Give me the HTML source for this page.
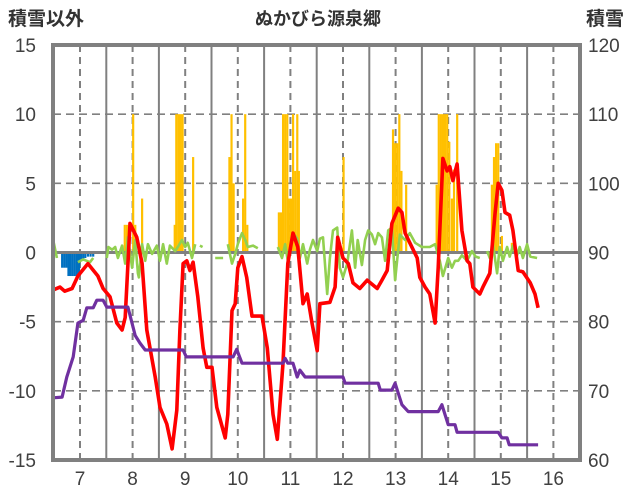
<!DOCTYPE html>
<html><head><meta charset="utf-8">
<style>
html,body{margin:0;padding:0;background:#fff;}
svg{display:block;font-family:"Liberation Sans","Noto Sans CJK JP",sans-serif;}
</style></head>
<body>
<svg id="chart" width="636" height="501" viewBox="0 0 636 501">
<text x="46" y="25" text-anchor="middle" font-size="19" font-weight="bold" fill="#333">積雪以外</text>
<text x="318" y="25" text-anchor="middle" font-size="18" font-weight="bold" fill="#333">ぬかびら源泉郷</text>
<text x="605" y="25" text-anchor="middle" font-size="19" font-weight="bold" fill="#333">積雪</text>
<g id="grid"></g>
<g id="marks"></g>
<g id="axes"></g>
</svg>
<script>
const leftTicks=[-15,-10,-5,0,5,10,15];
const rightTicks=[60,70,80,90,100,110,120];
const dayTicks=[7,8,9,10,11,12,13,14,15,16];
const redDays=[6.49,6.62,6.71,6.85,6.96,7.15,7.34,7.44,7.57,7.70,7.80,7.86,7.95,8.08,8.18,8.27,8.43,8.52,8.65,8.75,8.84,8.90,8.96,9.03,9.09,9.15,9.24,9.34,9.41,9.51,9.60,9.76,9.81,9.89,9.95,10.00,10.08,10.17,10.27,10.46,10.56,10.67,10.75,10.86,10.95,11.05,11.14,11.24,11.32,11.41,11.51,11.56,11.75,11.85,11.90,12.00,12.10,12.19,12.32,12.46,12.65,12.74,12.84,12.93,13.05,13.12,13.18,13.27,13.41,13.46,13.56,13.65,13.75,13.81,13.90,13.98,14.03,14.09,14.17,14.26,14.36,14.41,14.47,14.60,14.66,14.79,14.89,14.95,15.02,15.08,15.17,15.23,15.33,15.42,15.56,15.65,15.71];
const redVals=[-2.7,-2.5,-2.8,-2.6,-1.7,-0.8,-1.7,-2.6,-3.2,-5.1,-5.6,-4.7,2.1,1.1,-0.8,-5.6,-9.0,-11.2,-12.4,-14.2,-11.4,-5.6,-0.8,-0.6,-1.3,-0.7,-3.2,-6.9,-8.3,-8.3,-11.2,-13.4,-11.7,-4.2,-3.7,-1.1,-0.3,-1.8,-4.6,-4.6,-6.9,-11.7,-13.5,-8.0,-0.8,1.4,0.4,-3.7,-3.0,-5.1,-7.1,-3.7,-3.6,-2.5,1.1,-0.4,-0.8,-2.2,-2.6,-2.0,-2.6,-2.0,-1.3,2.1,3.2,2.9,1.4,0.7,-0.4,-1.8,-2.5,-3.0,-5.1,-1.1,6.8,5.9,6.2,5.2,6.4,1.6,-0.6,-0.8,-2.5,-3.0,-2.5,-1.5,2.8,5.0,4.5,2.9,2.7,1.6,-1.3,-1.4,-2.2,-3.0,-4.0];
const snowDays=[6.49,6.66,6.75,6.87,6.96,7.06,7.13,7.25,7.32,7.44,7.51,7.91,8.05,8.14,8.24,8.96,9.02,9.91,9.98,10.08,10.86,10.90,10.95,11.05,11.13,11.18,11.28,12.00,12.04,12.67,12.71,12.93,12.99,13.12,13.24,13.81,13.88,14.00,14.13,14.17,14.95,15.02,15.12,15.16,15.71];
const snowVals=[69,69.1,72,74.9,79.8,80.2,82,82,83.1,83.1,82.1,82.1,78,76.9,75.9,75.9,74.9,74.9,76,74,74,74.7,74,74,72,73,72,72,71.1,71.1,70.1,70.1,71.1,68,67,67,68,65.1,65.1,64,64,63.2,63.2,62.2,62.2];
const windDays=[6.49,6.56,null,6.96,7.06,7.19,7.25,null,7.51,7.54,7.61,7.67,7.72,7.80,7.86,7.91,7.99,8.05,8.10,8.12,8.18,8.24,8.29,8.37,8.46,8.52,8.58,8.65,8.71,8.81,8.86,8.94,9.00,9.05,9.13,9.19,null,9.28,9.33,null,9.57,9.72,null,9.81,9.89,9.95,10.00,10.08,10.14,10.19,10.29,10.38,null,10.76,10.84,10.90,10.95,10.99,11.05,11.13,11.18,11.24,11.32,11.37,11.43,11.51,11.56,11.62,11.70,11.75,11.81,11.89,11.94,12.00,12.08,12.17,12.23,12.28,12.36,12.42,12.48,12.55,12.61,12.67,12.74,12.80,12.86,12.93,12.99,13.08,13.18,13.27,13.37,13.50,13.65,13.75,13.84,13.90,14.00,14.07,14.13,14.19,14.26,14.36,14.45,14.52,14.60,null,14.74,14.79,14.85,14.93,14.98,15.04,15.12,15.17,15.23,15.30,15.36,15.42,15.50,15.56,15.69];
const windVals=[0.9,-0.4,null,-0.7,-0.5,-0.7,-0.4,null,-0.4,0.4,0.2,0.4,-0.4,0.5,-0.8,1.1,-1.1,0.9,-1.5,-1.8,0.6,-0.6,0.6,-0.1,0.5,-0.6,0.6,-0.8,0.5,0.1,0.4,0.9,0.4,0.7,-0.4,0.6,null,0.5,0.4,null,-0.4,-0.4,null,0.6,-0.8,-0.1,0.6,1.4,0.9,0.4,0.5,0.3,null,0.4,-0.4,0.6,-0.6,0.3,1.4,1.0,-0.4,0.6,-0.8,0.2,0.9,0.1,1.0,1.1,-3.0,-0.4,1.6,1.8,-1.1,-1.8,-0.8,1.6,-1.1,0.9,-0.9,0.9,1.6,1.3,0.6,1.4,1.1,-0.6,1.6,1.8,-2.0,1.3,0.9,1.4,0.7,0.4,0.4,0.6,-0.6,-1.7,-0.4,-1.1,-0.6,-0.6,-0.2,-0.6,0.1,-0.3,-0.4,null,0.1,-0.4,0.6,-1.5,0.4,-0.6,0.4,-0.3,0.5,-0.3,0.4,-0.4,0.6,-0.3,-0.4];
const precipDays=[7.83,7.87,7.99,8.03,8.16,8.78,8.81,8.85,8.89,8.93,9.13,9.82,9.86,9.90,10.08,10.12,10.16,10.76,10.80,10.84,10.88,10.92,10.95,10.99,11.03,11.07,11.11,11.14,11.99,12.93,12.97,13.01,13.05,13.09,13.18,13.76,13.80,13.84,13.88,13.92,13.96,14.00,14.05,14.09,14.15,14.81,14.85,14.89,14.93,15.00,15.19];
const precipVals=[2,2,10,2,3.9,2,10,10,10,10,6.9,6.9,10,5,3.9,10,2,2.9,2.9,10,10,10,3.9,3.9,10,5.9,10,5.9,6.9,8.9,7.9,7.9,10,5.9,4.9,4.9,10,10,10,10,10,8,3.9,6,10,4.9,6.9,7.9,7.9,1.2,0.7];
const blueDays=[6.64,6.68,6.72,6.76,6.80,6.84,6.88,6.92,6.96,7.00,7.04,7.08,7.13,7.18,7.23];
const blueVals=[-1.1,-1.1,-1.1,-1.7,-1.7,-1.7,-1.7,-1.9,-1.5,-0.6,-0.6,-0.4,-0.3,-0.3,-0.3];

const X0=53,X1=580,Y0=45,Y1=460;
const xs=d=>80+(d-7)*52.6;
const yl=v=>Y1-(v+15)/30*(Y1-Y0);
const yr=v=>Y1-(v-60)/60*(Y1-Y0);
const NS='http://www.w3.org/2000/svg';
function mk(tag,attrs,parent){const e=document.createElementNS(NS,tag);for(const k in attrs)e.setAttribute(k,attrs[k]);parent.appendChild(e);return e;}
const grid=document.getElementById('grid'),marks=document.getElementById('marks'),axes=document.getElementById('axes');

for(const d of dayTicks){
  const x=xs(d);
  if(x<X1){const l=mk('line',{x1:x,x2:x,y1:Y0,y2:Y1,stroke:'#808080','stroke-width':2,'stroke-dasharray':'7,5'},grid);
  
  }
  const xm=xs(d+0.5);
  if(xm<X1-2){const m=mk('line',{x1:xm,x2:xm,y1:Y0,y2:Y1,stroke:'#808080','stroke-width':2},grid);
  
  }
  const t=mk('text',{x:x,y:485,'text-anchor':'middle','font-size':19,fill:'#404040'},axes);
  t.textContent=d;
  
  
}
leftTicks.forEach((v,i)=>{
  const y=yl(v);
  if(v!==0&&v!==15&&v!==-15){const g=mk('line',{x1:X0,x2:X1,y1:y,y2:y,stroke:'#808080','stroke-width':1.6,'stroke-dasharray':'8,5'},grid);
  
  }
  const t=mk('text',{x:36,y:y+7,'text-anchor':'end','font-size':19,fill:'#404040'},axes);
  t.textContent=v;
  
  
  const r=mk('text',{x:588,y:yr(rightTicks[i])+7,'text-anchor':'start','font-size':19,fill:'#404040'},axes);
  r.textContent=rightTicks[i];
  
  
});

const bw=52.6/24;
precipDays.forEach((d,i)=>{
  const y=yl(precipVals[i]);
  const b=mk('rect',{x:xs(d),y:y,width:bw,height:yl(0)-y,fill:'#ffc000'},marks);
  
  
});
blueDays.forEach((d,i)=>{
  const b=mk('rect',{x:xs(d),y:yl(0),width:bw,height:yl(blueVals[i])-yl(0),fill:'#0070c0'},marks);
  
  
});
const zl=mk('line',{x1:X0,x2:X1,y1:yl(0),y2:yl(0),stroke:'#808080','stroke-width':3},marks);



function path(days,vals,yf){
  let s='',pen=false;
  for(let i=0;i<days.length;i++){
    if(days[i]===null||vals[i]===null){pen=false;continue;}
    s+=(pen?'L':'M')+xs(days[i]).toFixed(1)+','+yf(vals[i]).toFixed(1);pen=true;
  }
  return s;
}
const gp=mk('path',{d:path(windDays,windVals,yl),fill:'none',stroke:'#92d050','stroke-width':2.6,'stroke-linejoin':'round'},marks);


const rp=mk('path',{d:path(redDays,redVals,yl),fill:'none',stroke:'#ff0000','stroke-width':3.6,'stroke-linejoin':'round'},marks);


const pp=mk('path',{d:path(snowDays,snowVals,yr),fill:'none',stroke:'#7030a0','stroke-width':3.2,'stroke-linejoin':'round'},marks);



const fr=mk('rect',{x:X0,y:Y0,width:X1-X0,height:Y1-Y0,fill:'none',stroke:'#808080','stroke-width':4},axes);


</script>
</body></html>
